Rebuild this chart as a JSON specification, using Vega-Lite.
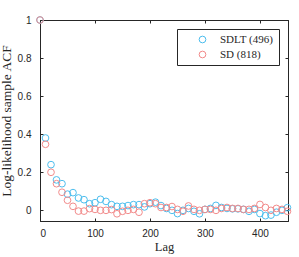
{
  "$schema": "https://vega.github.io/schema/vega-lite/v6.json",
  "width": 248,
  "height": 201,
  "autosize": "none",
  "padding": {"left": 40, "top": 20, "right": 11, "bottom": 36},
  "background": "white",
  "config": {
    "view": {"stroke": "#262626", "strokeWidth": 1},
    "axis": {
      "grid": false,
      "domainColor": "#262626",
      "tickColor": "#262626",
      "labelColor": "#262626",
      "labelFont": "Liberation Sans",
      "labelFontSize": 10,
      "titleFont": "Liberation Serif",
      "titleFontWeight": "normal",
      "titleFontSize": 12.5,
      "titleColor": "#262626"
    }
  },
  "data": {
    "values": [
      {"lag": 0, "acf": 1, "s": "SDLT (496)"},
      {"lag": 10, "acf": 0.38, "s": "SDLT (496)"},
      {"lag": 20, "acf": 0.24, "s": "SDLT (496)"},
      {"lag": 30, "acf": 0.16, "s": "SDLT (496)"},
      {"lag": 40, "acf": 0.14, "s": "SDLT (496)"},
      {"lag": 50, "acf": 0.085, "s": "SDLT (496)"},
      {"lag": 60, "acf": 0.093, "s": "SDLT (496)"},
      {"lag": 70, "acf": 0.065, "s": "SDLT (496)"},
      {"lag": 80, "acf": 0.056, "s": "SDLT (496)"},
      {"lag": 90, "acf": 0.035, "s": "SDLT (496)"},
      {"lag": 100, "acf": 0.04, "s": "SDLT (496)"},
      {"lag": 110, "acf": 0.058, "s": "SDLT (496)"},
      {"lag": 120, "acf": 0.047, "s": "SDLT (496)"},
      {"lag": 130, "acf": 0.03, "s": "SDLT (496)"},
      {"lag": 140, "acf": 0.021, "s": "SDLT (496)"},
      {"lag": 150, "acf": 0.021, "s": "SDLT (496)"},
      {"lag": 160, "acf": 0.025, "s": "SDLT (496)"},
      {"lag": 170, "acf": 0.03, "s": "SDLT (496)"},
      {"lag": 180, "acf": 0.03, "s": "SDLT (496)"},
      {"lag": 190, "acf": 0.018, "s": "SDLT (496)"},
      {"lag": 200, "acf": 0.035, "s": "SDLT (496)"},
      {"lag": 210, "acf": 0.043, "s": "SDLT (496)"},
      {"lag": 220, "acf": 0.025, "s": "SDLT (496)"},
      {"lag": 230, "acf": 0.01, "s": "SDLT (496)"},
      {"lag": 240, "acf": 0.0, "s": "SDLT (496)"},
      {"lag": 250, "acf": -0.017, "s": "SDLT (496)"},
      {"lag": 260, "acf": 0.0, "s": "SDLT (496)"},
      {"lag": 270, "acf": 0.01, "s": "SDLT (496)"},
      {"lag": 280, "acf": -0.005, "s": "SDLT (496)"},
      {"lag": 290, "acf": -0.018, "s": "SDLT (496)"},
      {"lag": 300, "acf": 0.005, "s": "SDLT (496)"},
      {"lag": 310, "acf": 0.01, "s": "SDLT (496)"},
      {"lag": 320, "acf": 0.026, "s": "SDLT (496)"},
      {"lag": 330, "acf": 0.015, "s": "SDLT (496)"},
      {"lag": 340, "acf": 0.01, "s": "SDLT (496)"},
      {"lag": 350, "acf": 0.008, "s": "SDLT (496)"},
      {"lag": 360, "acf": 0.008, "s": "SDLT (496)"},
      {"lag": 370, "acf": 0.005, "s": "SDLT (496)"},
      {"lag": 380, "acf": -0.005, "s": "SDLT (496)"},
      {"lag": 390, "acf": 0.005, "s": "SDLT (496)"},
      {"lag": 400, "acf": -0.017, "s": "SDLT (496)"},
      {"lag": 410, "acf": -0.028, "s": "SDLT (496)"},
      {"lag": 420, "acf": -0.025, "s": "SDLT (496)"},
      {"lag": 430, "acf": -0.01, "s": "SDLT (496)"},
      {"lag": 440, "acf": 0.0, "s": "SDLT (496)"},
      {"lag": 450, "acf": 0.014, "s": "SDLT (496)"},
      {"lag": 0, "acf": 1, "s": "SD (818)"},
      {"lag": 10, "acf": 0.347, "s": "SD (818)"},
      {"lag": 20, "acf": 0.2, "s": "SD (818)"},
      {"lag": 30, "acf": 0.14, "s": "SD (818)"},
      {"lag": 40, "acf": 0.095, "s": "SD (818)"},
      {"lag": 50, "acf": 0.053, "s": "SD (818)"},
      {"lag": 60, "acf": 0.021, "s": "SD (818)"},
      {"lag": 70, "acf": -0.004, "s": "SD (818)"},
      {"lag": 80, "acf": -0.004, "s": "SD (818)"},
      {"lag": 90, "acf": 0.009, "s": "SD (818)"},
      {"lag": 100, "acf": 0.005, "s": "SD (818)"},
      {"lag": 110, "acf": 0.0, "s": "SD (818)"},
      {"lag": 120, "acf": 0.0, "s": "SD (818)"},
      {"lag": 130, "acf": 0.004, "s": "SD (818)"},
      {"lag": 140, "acf": -0.018, "s": "SD (818)"},
      {"lag": 150, "acf": -0.005, "s": "SD (818)"},
      {"lag": 160, "acf": 0.0, "s": "SD (818)"},
      {"lag": 170, "acf": 0.005, "s": "SD (818)"},
      {"lag": 180, "acf": -0.01, "s": "SD (818)"},
      {"lag": 190, "acf": 0.035, "s": "SD (818)"},
      {"lag": 200, "acf": 0.04, "s": "SD (818)"},
      {"lag": 210, "acf": 0.035, "s": "SD (818)"},
      {"lag": 220, "acf": 0.015, "s": "SD (818)"},
      {"lag": 230, "acf": 0.015, "s": "SD (818)"},
      {"lag": 240, "acf": 0.02, "s": "SD (818)"},
      {"lag": 250, "acf": 0.005, "s": "SD (818)"},
      {"lag": 260, "acf": -0.005, "s": "SD (818)"},
      {"lag": 270, "acf": 0.023, "s": "SD (818)"},
      {"lag": 280, "acf": 0.005, "s": "SD (818)"},
      {"lag": 290, "acf": 0.0, "s": "SD (818)"},
      {"lag": 300, "acf": 0.005, "s": "SD (818)"},
      {"lag": 310, "acf": 0.005, "s": "SD (818)"},
      {"lag": 320, "acf": 0.0, "s": "SD (818)"},
      {"lag": 330, "acf": 0.01, "s": "SD (818)"},
      {"lag": 340, "acf": 0.015, "s": "SD (818)"},
      {"lag": 350, "acf": 0.01, "s": "SD (818)"},
      {"lag": 360, "acf": 0.01, "s": "SD (818)"},
      {"lag": 370, "acf": 0.005, "s": "SD (818)"},
      {"lag": 380, "acf": 0.005, "s": "SD (818)"},
      {"lag": 390, "acf": 0.01, "s": "SD (818)"},
      {"lag": 400, "acf": 0.031, "s": "SD (818)"},
      {"lag": 410, "acf": 0.015, "s": "SD (818)"},
      {"lag": 420, "acf": 0.0, "s": "SD (818)"},
      {"lag": 430, "acf": 0.01, "s": "SD (818)"},
      {"lag": 440, "acf": 0.005, "s": "SD (818)"},
      {"lag": 450, "acf": -0.005, "s": "SD (818)"}
    ]
  },
  "layer": [
    {
      "mark": {"type": "point", "shape": "circle", "filled": false, "size": 45, "strokeWidth": 1, "opacity": 1},
      "encoding": {
        "x": {"field": "lag", "type": "quantitative",
              "scale": {"domain": [0, 451], "nice": false, "zero": false},
              "axis": {"values": [0, 100, 200, 300, 400], "tickSize": -3, "labelPadding": 10, "title": "Lag", "titlePadding": 2}},
        "y": {"field": "acf", "type": "quantitative",
              "scale": {"domain": [-0.056, 1], "nice": false, "zero": false},
              "axis": {"values": [0, 0.2, 0.4, 0.6, 0.8, 1], "format": "~g", "tickSize": -3, "labelPadding": 12, "title": "Log-likelihood sample ACF", "titlePadding": 4, "titleFontSize": 13.5}},
        "color": {"field": "s", "type": "nominal",
                  "scale": {"domain": ["SDLT (496)", "SD (818)"], "range": ["#4DBEEE", "#F28B8B"]},
                  "sort": null,
                  "legend": {
                    "title": null, "orient": "none", "legendX": 137, "legendY": 9,
                    "strokeColor": "#262626", "fillColor": "white", "padding": 5,
                    "symbolOffset": 15, "labelOffset": 12,
                    "labelFont": "Liberation Serif", "labelFontSize": 11, "labelColor": "#262626",
                    "symbolType": "circle", "symbolSize": 45, "symbolStrokeWidth": 1, "symbolFillColor": "transparent",
                    "rowPadding": 3
                  }},
        "order": {"value": 0}
      }
    },
    {
      "mark": {"type": "point", "opacity": 0},
      "encoding": {
        "x": {"field": "lag", "type": "quantitative",
              "axis": {"orient": "top", "values": [0, 100, 200, 300, 400], "tickSize": -3, "labels": false, "title": null}},
        "y": {"field": "acf", "type": "quantitative",
              "axis": {"orient": "right", "values": [0, 0.2, 0.4, 0.6, 0.8, 1], "tickSize": -3, "labels": false, "title": null}}
      }
    }
  ],
  "resolve": {"axis": {"x": "independent", "y": "independent"}}
}
